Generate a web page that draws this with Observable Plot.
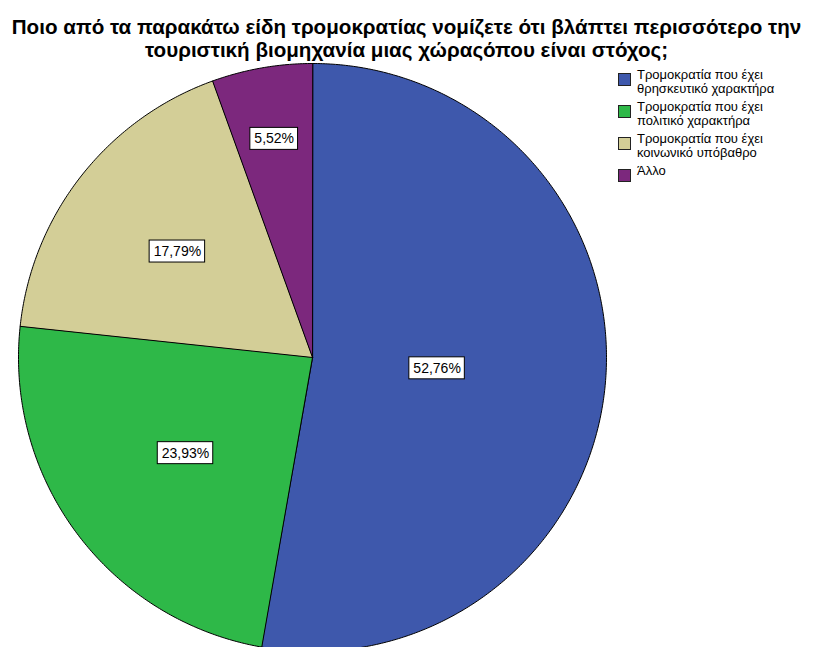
<!DOCTYPE html>
<html><head><meta charset="utf-8">
<script src="https://cdn.jsdelivr.net/npm/d3@7"></script>
<script src="https://cdn.jsdelivr.net/npm/@observablehq/plot@0.6"></script>
<style>
html,body{margin:0;padding:0;background:#fff;overflow:hidden;}
#wrap{position:relative;width:813px;height:647px;overflow:hidden;}
#title{height:60px;box-sizing:border-box;padding-top:15px;text-align:center;font-family:"Liberation Sans",Arial,sans-serif;font-weight:bold;font-size:20.6px;line-height:23px;color:#000;}
#title div{white-space:nowrap;}
#legend{position:absolute;left:617px;top:68px;font-family:"Liberation Sans",Arial,sans-serif;font-size:13px;line-height:14px;color:#000;}
.item{position:relative;padding-left:20px;margin-bottom:4px;}
.sw{position:absolute;left:1px;top:5px;width:11px;height:11px;border:1px solid #222;}
</style></head>
<body><div id="wrap"><div id="title"></div><div id="chart"></div><div id="legend"></div></div>
<script>
const titleLines = ["Ποιο από τα παρακάτω είδη τρομοκρατίας νομίζετε ότι βλάπτει περισσότερο την", "τουριστική βιομηχανία μιας χώραςόπου είναι στόχος;"];
const categories = ["Τρομοκρατία που έχει θρησκευτικό χαρακτήρα", "Τρομοκρατία που έχει πολιτικό χαρακτήρα", "Τρομοκρατία που έχει κοινωνικό υπόβαθρο", "Άλλο"];
const legendLines = [["Τρομοκρατία που έχει", "θρησκευτικό χαρακτήρα"], ["Τρομοκρατία που έχει", "πολιτικό χαρακτήρα"], ["Τρομοκρατία που έχει", "κοινωνικό υπόβαθρο"], ["Άλλο"]];
const percents = [52.76, 23.93, 17.79, 5.52];
const percentLabels = ["52,76%", "23,93%", "17,79%", "5,52%"];
const colors = ["#3E58AC", "#2EB848", "#D3CE97", "#7C287D"];

// title
d3.select("#title").selectAll("div").data(titleLines).join("div").text(d => d);

// layout constants (pixels)
const W = 813, H = 587, R = 294, CX = 312, CY = 297;

// pie geometry
const arcs = d3.pie().sort(null).value(d => d)(percents);
const pts = [];
arcs.forEach((a, i) => {
  const cat = categories[i];
  pts.push({x: 0, y: 0, cat});
  const n = Math.max(2, Math.ceil((a.endAngle - a.startAngle) / (Math.PI / 360)));
  for (let k = 0; k <= n; k++) {
    const t = a.startAngle + (a.endAngle - a.startAngle) * k / n;
    pts.push({x: Math.sin(t), y: Math.cos(t), cat});
  }
});

// labels
const ctx = document.createElement("canvas").getContext("2d");
const FS = 14;
ctx.font = `${FS}px "Liberation Sans"`;
const labels = arcs.map((a, i) => {
  const mid = (a.startAngle + a.endAngle) / 2;
  const rr = 0.332 - 0.146 * Math.log(percents[i] / 100);
  const x = rr * Math.sin(mid), y = rr * Math.cos(mid);
  const w = ctx.measureText(percentLabels[i]).width + 8;
  const h = 22;
  return {x, y, text: percentLabels[i], x1: x - w / 2 / R, x2: x + w / 2 / R, y1: y - h / 2 / R, y2: y + h / 2 / R};
});

const chart = Plot.plot({
  width: W, height: H,
  margin: 0,
  style: {fontFamily: "Liberation Sans, Arial, sans-serif", background: "#fff"},
  x: {domain: [-1, 1], range: [CX - R, CX + R], axis: null},
  y: {domain: [-1, 1], range: [CY + R, CY - R], axis: null},
  color: {domain: categories, range: colors},
  marks: [
    Plot.line(pts, {x: "x", y: "y", z: "cat", fill: "cat", stroke: "#000", strokeWidth: 1, curve: "linear-closed"}),
    Plot.rect(labels, {x1: "x1", x2: "x2", y1: "y1", y2: "y2", fill: "#fff", stroke: "#000", strokeWidth: 1}),
    Plot.text(labels, {x: "x", y: "y", text: "text", fontSize: FS, fill: "#000"})
  ]
});
document.getElementById("chart").appendChild(chart);

// legend
const items = d3.select("#legend").selectAll("div.item").data(categories).join("div").attr("class", "item");
items.append("div").attr("class", "sw").style("background", (d, i) => colors[i]);
items.each(function(d, i) {
  legendLines[i].forEach(l => d3.select(this).append("div").text(l));
});
</script></body></html>
